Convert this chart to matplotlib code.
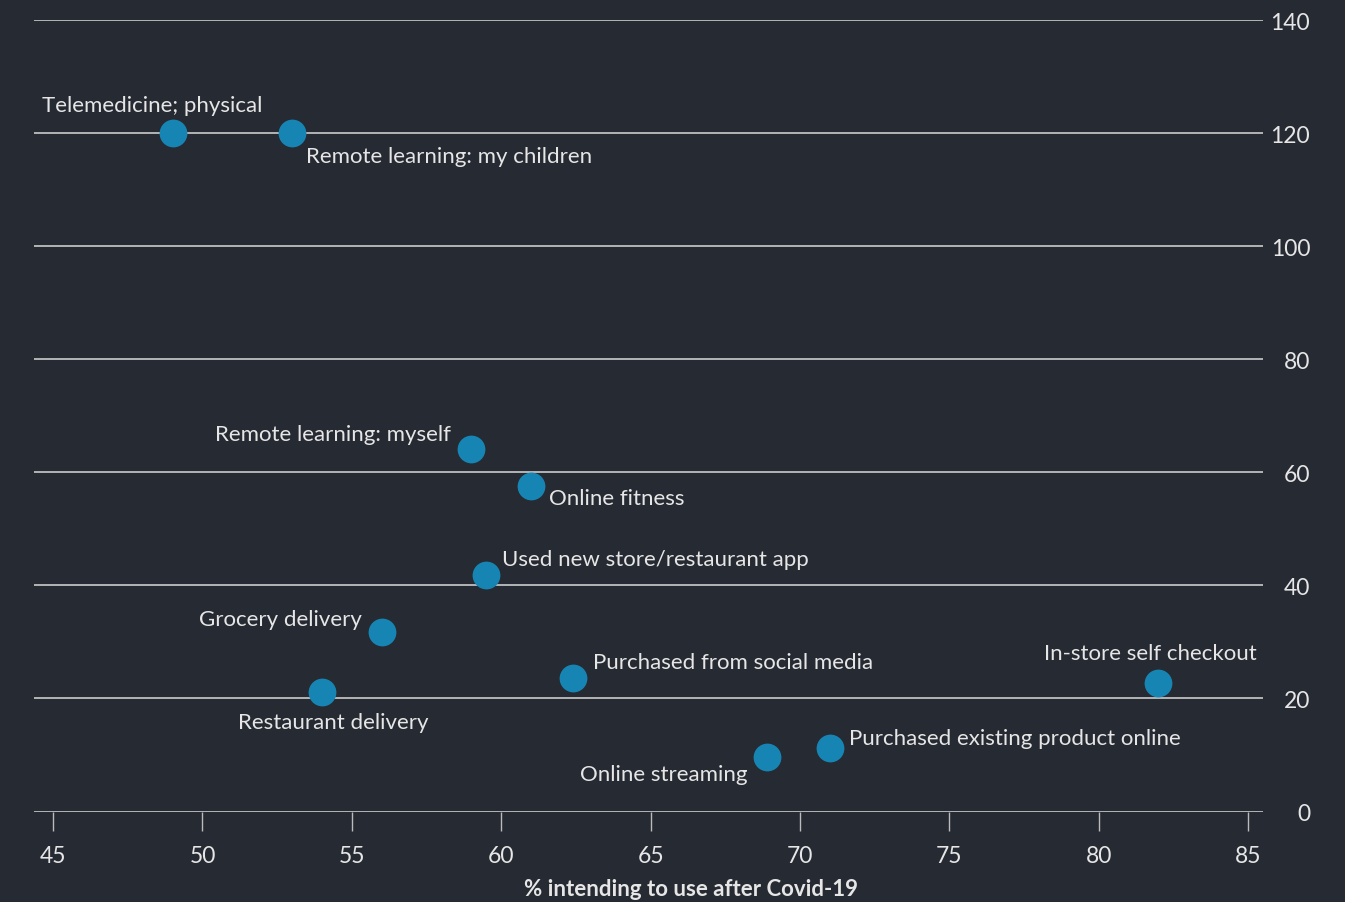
import matplotlib.pyplot as plt

labels = ["Telemedicine; physical", "Remote learning: my children", "Remote learning: myself",
          "Online fitness", "Used new store/restaurant app", "Grocery delivery",
          "Restaurant delivery", "Purchased from social media", "In-store self checkout",
          "Online streaming", "Purchased existing product online"]
x_vals = [49.0, 53.0, 59.0, 61.0, 59.5, 56.0, 54.0, 62.4, 82.0, 68.9, 71.0]
y_vals = [120, 120, 64.1, 57.5, 41.9, 31.7, 21.1, 23.7, 22.7, 9.6, 11.2]
x_ticks = [45, 50, 55, 60, 65, 70, 75, 80, 85]
y_ticks = [0, 20, 40, 60, 80, 100, 120, 140]

# label placement: (dx px, dy px, ha), dy positive = down in image
offsets = [(-20, -28, 'center'), (14, 23, 'left'), (-20, -15, 'right'), (18, 12, 'left'),
           (16, -16, 'left'), (-20, -13, 'right'), (11, 30, 'center'), (20, -16, 'left'),
           (-8, -30, 'center'), (-20, 17, 'right'), (19, -10, 'left')]

bg = '#262a33'
fg = '#e6e6e6'
plt.rcParams['font.family'] = ['Lato', 'DejaVu Sans']

fig = plt.figure(figsize=(13.45, 9.03), dpi=100, facecolor=bg)
ax = fig.add_axes([34 / 1345, 1 - 812.5 / 903, 1229 / 1345, 791.5 / 903], facecolor=bg)

ax.set_xlim(44.36, 85.5)
ax.set_ylim(0, 140)

for yt in y_ticks:
    ax.axhline(yt, color='#d9d9d9', lw=1.1, zorder=1)

ax.scatter(x_vals, y_vals, s=400, color='#1785b3', zorder=3, linewidths=0)

for lab, xv, yv, (dx, dy, ha) in zip(labels, x_vals, y_vals, offsets):
    ax.annotate(lab, (xv, yv), xytext=(dx * 0.72, -dy * 0.72), textcoords='offset points',
                ha=ha, va='center', color=fg, fontsize=16)

for s in ax.spines.values():
    s.set_visible(False)

ax.set_xticks(x_ticks)
ax.tick_params(axis='x', length=14, width=1, color='#bbbbbb', labelsize=16.5, pad=10)
for t in ax.get_xticklabels():
    t.set_color(fg)

ax.yaxis.tick_right()
ax.set_yticks(y_ticks)
ax.tick_params(axis='y', length=0, labelsize=16.5, pad=34)
for t in ax.get_yticklabels():
    t.set_color(fg)
    t.set_horizontalalignment('right')

ax.set_xlabel('% intending to use after Covid-19', color=fg, fontsize=16, fontweight='bold')
ax.xaxis.set_label_coords(0.5346, -0.084)

fig.savefig('out.png', dpi=100, facecolor=bg)
